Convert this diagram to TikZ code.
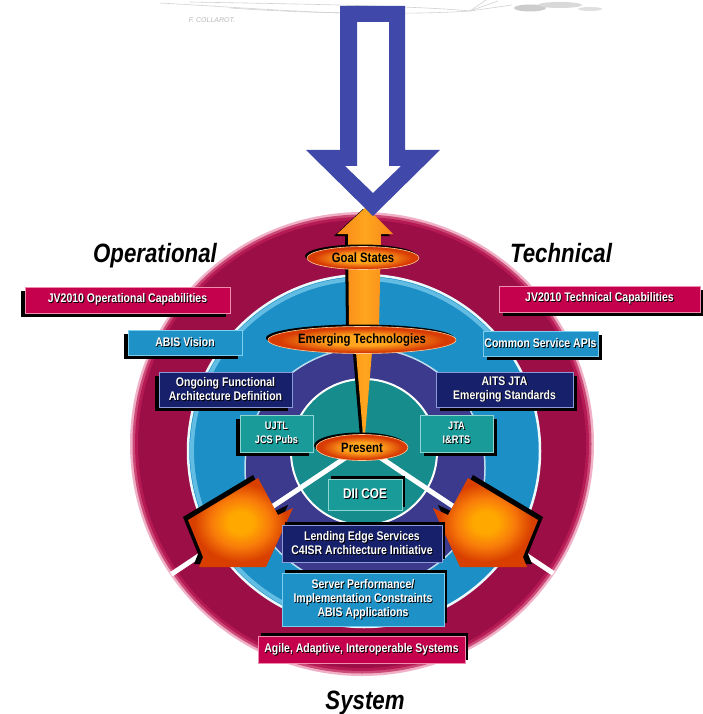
\documentclass[tikz,border=0pt]{standalone}
\usepackage{fontspec}
\setmainfont{Liberation Sans}
\newfontfamily\condfont[FakeStretch=0.84]{Liberation Sans}
\usetikzlibrary{shapes.geometric,shadows}

\definecolor{arrowblue}{HTML}{4049A9}
\definecolor{crimD}{HTML}{9C0E46}
\definecolor{crimL}{HTML}{B51A55}
\definecolor{crimP}{HTML}{CC4A76}
\definecolor{crimRim}{HTML}{F0B0C8}
\definecolor{ringblue}{HTML}{1C8FC6}
\definecolor{ringhi}{HTML}{7CCDEE}
\definecolor{ringpurple}{HTML}{3B3A8C}
\definecolor{ringteal}{HTML}{168C8C}
\definecolor{boxcrimson}{HTML}{C5004D}
\definecolor{boxblue}{HTML}{1E91C7}
\definecolor{boxnavy}{HTML}{16206B}
\definecolor{boxteal}{HTML}{199B99}
\definecolor{edgecrim}{HTML}{F08CB0}
\definecolor{edgenavy}{HTML}{8C9AD8}
\definecolor{edgeteal}{HTML}{8FD6D2}
\definecolor{orangeL}{HTML}{FFA51E}
\definecolor{orangeM}{HTML}{F7861A}
\definecolor{orangeD}{HTML}{D83C04}
\definecolor{glowC}{HTML}{FFA800}
\definecolor{glowM}{HTML}{F87A0A}
\definecolor{glowE}{HTML}{D94000}

% glow shadings (25bp = edge of the filled shape)
\pgfdeclareradialshading{ovalglow}{\pgfpoint{0bp}{0bp}}{color(0bp)=(orangeL); color(10bp)=(orangeL); color(22bp)=(orangeD); color(25bp)=(orangeD); color(50bp)=(orangeD)}
\pgfdeclareradialshading{blockglow}{\pgfpoint{0bp}{0bp}}{color(0bp)=(glowC); color(6bp)=(glowC); color(14bp)=(glowM); color(22bp)=(glowE); color(50bp)=(glowE)}

\newcommand\lblfont{\condfont\bfseries\fontsize{12.5}{14}\selectfont}
\newcommand\titlefont{\condfont\bfseries\itshape\fontsize{26.5}{30}\selectfont}
% white label text with a small black drop shadow
\newcommand\shtxt[1]{\leavevmode\rlap{\kern0.9pt\raisebox{-0.9pt}{\color{black}#1}}#1}

\begin{document}
\begin{tikzpicture}[x=1pt,y=-1pt,
  sketch/.style={draw=gray!35, line width=0.6pt},
  box/.style={font=\lblfont, text=white, align=center, inner sep=1pt, line width=0.8pt},
  crimbox/.style={box, fill=boxcrimson, draw=edgecrim},
  bluebox/.style={box, fill=boxblue, draw=ringhi},
  navybox/.style={box, fill=boxnavy, draw=edgenavy},
  tealbox/.style={box, fill=boxteal, draw=edgeteal},
  shadeL/.style={drop shadow={shadow xshift=-4pt, shadow yshift=-4pt, fill=black, opacity=1}},
  shadeR/.style={drop shadow={shadow xshift=4pt, shadow yshift=-4pt, fill=black, opacity=1}},
  shadeU/.style={drop shadow={shadow xshift=3pt, shadow yshift=3pt, fill=black, opacity=1}},
  oval/.style={ellipse, shading=ovalglow, draw=orange!40!white, line width=0.6pt, inner sep=0pt,
    font=\condfont\bfseries\fontsize{13.5}{14}\selectfont, text=black,
    drop shadow={shadow xshift=-2pt, shadow yshift=2pt, fill=black, opacity=1}},
  title/.style={font=\titlefont, text=black, anchor=base},
]
\useasboundingbox (0,0) rectangle (702,714);
\fill[white] (0,0) rectangle (702,714);

% faint pencil sketch along the top edge
\draw[sketch] (160,3) .. controls (230,7) and (300,12) .. (345,13);
\draw[sketch] (190,2) .. controls (300,4) and (420,6) .. (470,11);
\draw[sketch] (230,8) .. controls (330,15) and (430,14) .. (470,11);
\draw[sketch] (470,11) -- (498,1);
\draw[sketch] (470,11) -- (512,5);
\draw[sketch] (470,11) -- (486,0);
\fill[gray!40] (530,8) ellipse (16 and 3.5);
\fill[gray!30] (560,5) ellipse (22 and 3);
\fill[gray!25] (590,9) ellipse (12 and 2);
\node[font=\itshape\fontsize{7}{7}\selectfont, text=gray!55] (signature) at (212,20) {F. COLLAROT.};

% concentric rings: crimson with a pink rim, then blue, purple and teal
\fill[crimRim] (362,444) circle (232);
\fill[crimP] (362,444) circle (229.5);
\fill[crimL] (362,444) circle (227);
\fill[crimD] (362,444) circle (224);
\filldraw[fill=ringblue, draw=white!85!ringhi, line width=2.5pt] (364,451) circle (176);
\draw[ringhi, line width=4pt, opacity=0.75] (364,451) ++(110:172) arc[start angle=110, end angle=320, radius=172];
\filldraw[fill=ringpurple, draw=white!70!ringblue, line width=1.5pt] (365,468) circle (120);
\filldraw[fill=ringteal, draw=white, line width=2pt] (364,452) circle (73);

% white spokes from the centre
\coordinate (hub) at (363,446);
\begin{scope}
  \clip (362,444) circle (231);
  \draw[white, line width=5pt] (hub) -- ++(-260,174);
  \draw[white, line width=5pt] (hub) -- ++(260,174);
\end{scope}

% orange block arrows on the lower left and right
\begin{scope}[shift={(-5,-3)}]
  \fill[black] (258,478) -- (188,520) -- (203,557) -- (199,567) -- (266,567) -- (293,508) -- (278,515) -- cycle;
\end{scope}
\shade[shading=blockglow] (258,478) -- (188,520) -- (203,557) -- (199,567) -- (266,567) -- (293,508) -- (278,515) -- cycle;
\begin{scope}[shift={(5,-3)}]
  \fill[black] (468,478) -- (538,520) -- (523,557) -- (527,567) -- (460,567) -- (433,508) -- (448,515) -- cycle;
\end{scope}
\shade[shading=blockglow] (468,478) -- (538,520) -- (523,557) -- (527,567) -- (460,567) -- (433,508) -- (448,515) -- cycle;

% labelled boxes
\node[crimbox, shadeL, minimum width=205, minimum height=26] (opcap) at (127.5,300) {\shtxt{JV2010 Operational Capabilities}};
\node[crimbox, shadeR, minimum width=201, minimum height=26] (techcap) at (599.5,299) {\shtxt{JV2010 Technical Capabilities}};
\node[bluebox, shadeL, minimum width=114, minimum height=25] (abis) at (185,342.5) {\shtxt{ABIS Vision}};
\node[bluebox, shadeR, minimum width=115, minimum height=25] (csapi) at (540.5,343.5) {\shtxt{Common Service APIs}};
\node[navybox, shadeL, minimum width=133, minimum height=35] (ongoing) at (225.5,389.5) {\shtxt{Ongoing Functional}\\\shtxt{Architecture Definition}};
\node[navybox, shadeR, minimum width=137, minimum height=35] (aits) at (504.5,389.5) {\shtxt{AITS JTA}\\\shtxt{Emerging Standards}};
\node[tealbox, shadeL, minimum width=73, minimum height=37, font=\condfont\bfseries\fontsize{11}{14}\selectfont] (ujtl) at (276.5,433.5) {\shtxt{UJTL}\\\shtxt{JCS Pubs}};
\node[tealbox, shadeR, minimum width=73, minimum height=37, font=\condfont\bfseries\fontsize{11}{14}\selectfont] (jta) at (456.5,433.5) {\shtxt{JTA}\\\shtxt{I\&RTS}};
\node[tealbox, shadeU, minimum width=74, minimum height=31, font=\condfont\bfseries\fontsize{14}{15}\selectfont] (dii) at (365,494.5) {\shtxt{DII COE}};
\node[navybox, shadeU, minimum width=160, minimum height=37] (lending) at (362,543.5) {\shtxt{Lending Edge Services}\\\shtxt{C4ISR Architecture Initiative}};
\node[bluebox, shadeU, minimum width=162, minimum height=53] (server) at (363,599.5) {\shtxt{Server Performance/}\\\shtxt{Implementation Constraints}\\\shtxt{ABIS Applications}};
\node[crimbox, shadeU, minimum width=207, minimum height=27] (agile) at (361.5,649.5) {\shtxt{Agile, Adaptive, Interoperable Systems}};

% central orange arrow from the present to the goal states
\begin{scope}[shift={(-3,2)}]
  \fill[black] (366,207) -- (393,234) -- (381,234) -- (379,330) -- (372,352) -- (364.5,441) -- (363.5,441) -- (356,352) -- (349,330) -- (348,234) -- (337,234) -- cycle;
\end{scope}
\shade[left color=orangeM, right color=orangeM, middle color=orangeL] (366,207) -- (393,234) -- (381,234) -- (379,330) -- (372,352) -- (364.5,441) -- (363.5,441) -- (356,352) -- (349,330) -- (348,234) -- (337,234) -- cycle;

\node[oval, minimum width=112, minimum height=23] (goal) at (363,258) {Goal States};
\node[oval, minimum width=188, minimum height=27] (emerge) at (362,340) {Emerging Technologies};
\node[oval, minimum width=92, minimum height=26] (present) at (362,447.5) {Present};

% large hollow arrow pointing down at the goal
\fill[arrowblue, even odd rule]
  (340,6) -- (405,6) -- (405,150) -- (440,150) -- (373,216) -- (306,150) -- (340,150) -- cycle
  (357,22) -- (389,22) -- (389,166) -- (401,166) -- (373,193) -- (345,166) -- (357,166) -- cycle;

% section titles
\node[title] (optitle) at (155,262) {Operational};
\node[title] (techtitle) at (561,262) {Technical};
\node[title] (systitle) at (365,709) {System};
\end{tikzpicture}
\end{document}
